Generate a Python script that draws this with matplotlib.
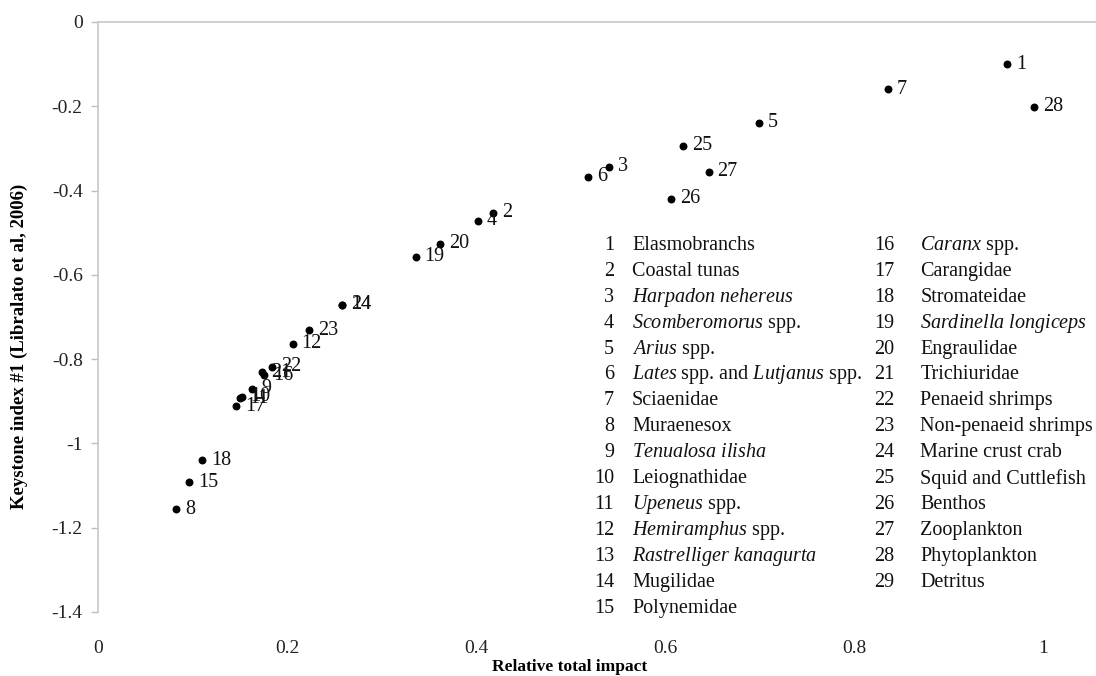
import matplotlib.pyplot as plt

plt.rcParams['font.family'] = ['Liberation Serif', 'DejaVu Serif']
plt.rcParams['mathtext.fontset'] = 'custom'
plt.rcParams['mathtext.rm'] = 'Liberation Serif'
plt.rcParams['mathtext.it'] = 'Liberation Serif:italic'
plt.rcParams['axes.unicode_minus'] = False

# functional groups plotted (13 and 29 are not shown)
group_ids = [1, 28, 7, 5, 25, 27, 26, 3, 6, 2, 4, 20, 19, 14, 24,
             23, 12, 22, 21, 16, 9, 10, 11, 17, 18, 15, 8]
relative_impact = [0.962, 0.990, 0.836, 0.699, 0.619, 0.646, 0.606, 0.541, 0.519,
                   0.418, 0.402, 0.362, 0.336, 0.258, 0.258,
                   0.223, 0.206, 0.184, 0.174, 0.176, 0.163, 0.152, 0.150,
                   0.146, 0.110, 0.096, 0.083]
keystone_index = [-0.100, -0.201, -0.159, -0.239, -0.294, -0.355, -0.419, -0.344, -0.367,
                  -0.453, -0.472, -0.526, -0.557, -0.671, -0.671,
                  -0.732, -0.763, -0.818, -0.831, -0.838, -0.870, -0.889, -0.893,
                  -0.912, -1.040, -1.092, -1.156]

xtick_vals = [0, 0.2, 0.4, 0.6, 0.8, 1.0]
xtick_labels = ['0', '0.2', '0.4', '0.6', '0.8', '1']
ytick_vals = [0, -0.2, -0.4, -0.6, -0.8, -1.0, -1.2, -1.4]
ytick_labels = ['0', '-0.2', '-0.4', '-0.6', '-0.8', '-1', '-1.2', '-1.4']

# key to the group numbers
legend_left = [
    (1, 'Elasmobranchs'),
    (2, 'Coastal tunas'),
    (3, r'$\mathit{Harpadon\ nehereus}$'),
    (4, r'$\mathit{Scomberomorus}$ spp.'),
    (5, r'$\mathit{Arius}$ spp.'),
    (6, r'$\mathit{Lates}$ spp. and $\mathit{Lutjanus}$ spp.'),
    (7, 'Sciaenidae'),
    (8, 'Muraenesox'),
    (9, r'$\mathit{Tenualosa\ ilisha}$'),
    (10, 'Leiognathidae'),
    (11, r'$\mathit{Upeneus}$ spp.'),
    (12, r'$\mathit{Hemiramphus}$ spp.'),
    (13, r'$\mathit{Rastrelliger\ kanagurta}$'),
    (14, 'Mugilidae'),
    (15, 'Polynemidae'),
]
legend_right = [
    (16, r'$\mathit{Caranx}$ spp.'),
    (17, 'Carangidae'),
    (18, 'Stromateidae'),
    (19, r'$\mathit{Sardinella\ longiceps}$'),
    (20, 'Engraulidae'),
    (21, 'Trichiuridae'),
    (22, 'Penaeid shrimps'),
    (23, 'Non-penaeid shrimps'),
    (24, 'Marine crust crab'),
    (25, 'Squid and Cuttlefish'),
    (26, 'Benthos'),
    (27, 'Zooplankton'),
    (28, 'Phytoplankton'),
    (29, 'Detritus'),
]

fig = plt.figure(figsize=(10.96, 6.76), dpi=100)
ax = fig.add_axes([98 / 1096, 1 - 612 / 676, 1 - 98 / 1096, (612 - 22) / 676])

ax.scatter(relative_impact, keystone_index, s=22, color='black', zorder=3)
for gid, x, y in zip(group_ids, relative_impact, keystone_index):
    ax.annotate(str(gid), (x, y), xytext=(6.5, 0), textcoords='offset points',
                ha='left', va='center', fontsize=14.5, color='#111111')

ax.set_xlim(0, 1.056)
ax.set_ylim(-1.4, 0)

ax.set_xticks(xtick_vals)
ax.set_xticklabels(xtick_labels, fontsize=14, color='#222222')
ax.set_yticks(ytick_vals)
ax.set_yticklabels(ytick_labels, fontsize=14, color='#222222')
ax.tick_params(axis='x', length=0, pad=20)
ax.tick_params(axis='y', length=5, color='#bfbfbf', width=1, pad=6)

for side in ['bottom', 'right']:
    ax.spines[side].set_visible(False)
for side in ['left', 'top']:
    ax.spines[side].set_color('#c8c8c8')
    ax.spines[side].set_linewidth(1.2)

ax.set_xlabel('Relative total impact', fontsize=12.5, fontweight='bold')
ax.xaxis.set_label_coords((570 - 98) / 998, -0.08)
ax.set_ylabel('Keystone index #1 (Libralato et al, 2006)', fontsize=13.5, fontweight='bold')
ax.yaxis.set_label_coords(-0.07, 0.45)

# numbered key, two columns
row_top = -0.530
row_step = 0.0615
for col, (num_x, txt_x) in zip([legend_left, legend_right], [(0.546, 0.565), (0.843, 0.870)]):
    for i, (num, name) in enumerate(col):
        y = row_top - i * row_step
        ax.text(num_x, y, str(num), ha='right', va='center', fontsize=14.5, color='#111111')
        ax.text(txt_x, y, name, ha='left', va='center', fontsize=14.5, color='#111111')

fig.savefig('out.png', dpi=100)
